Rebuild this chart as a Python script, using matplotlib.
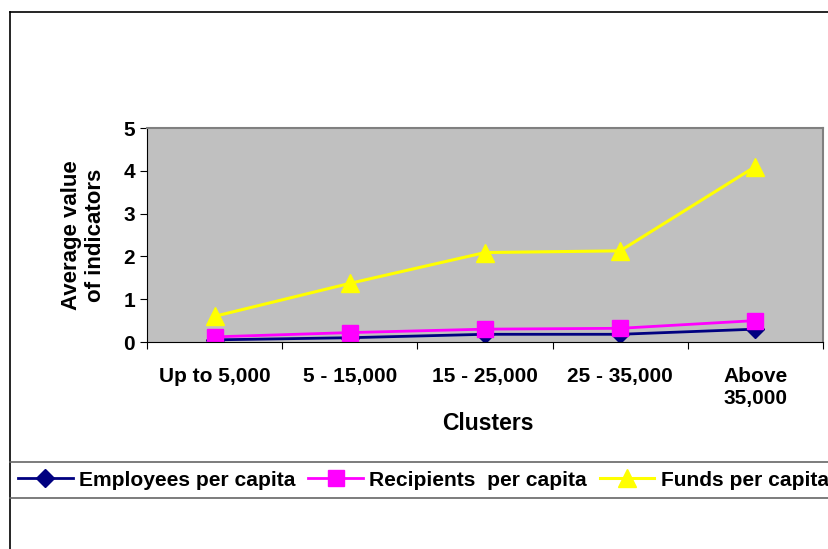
import matplotlib
matplotlib.use("Agg")
import matplotlib.pyplot as plt
from matplotlib.lines import Line2D

plt.rcParams['font.family'] = ['Liberation Sans', 'DejaVu Sans']
plt.rcParams['font.weight'] = 'bold'

clusters = ["Up to 5,000", "5 - 15,000", "15 - 25,000", "25 - 35,000", "Above\n35,000"]
employees = [0.05, 0.10, 0.18, 0.18, 0.30]
recipients = [0.12, 0.22, 0.30, 0.32, 0.50]
funds = [0.60, 1.37, 2.09, 2.13, 4.10]
series_names = ["Employees per capita", "Recipients  per capita", "Funds per capita"]

W, H = 829, 549
fig = plt.figure(figsize=(W / 100, H / 100), dpi=100)

# outer chart border (cut off at right and bottom)
fig.add_artist(Line2D([10 / W, 10 / W], [0, 1 - 12 / H], color="black", lw=1.2))
fig.add_artist(Line2D([10 / W, 1], [1 - 12 / H, 1 - 12 / H], color="black", lw=1.2))
# legend box lines
for yy in (462, 498):
    fig.add_artist(Line2D([10 / W, 1], [1 - yy / H, 1 - yy / H], color="#666666", lw=1.2))

# plot area in pixels: x 147..823, y 128..342
ax = fig.add_axes([147 / W, 1 - 342 / H, (823 - 147) / W, (342 - 128) / H])
ax.set_facecolor("#C0C0C0")

x = list(range(len(clusters)))
ax.plot(x, employees, color="#000080", lw=2, marker="D", ms=9, label=series_names[0])
ax.plot(x, recipients, color="#FF00FF", lw=2, marker="s", ms=11, label=series_names[1])
ax.plot(x, funds, color="#FFFF00", lw=2.2, marker="^", ms=13, label=series_names[2])

ax.set_xlim(-0.5, len(clusters) - 0.5)
ax.set_ylim(0, 5)
ax.set_yticks(range(6))
ax.set_xticks([i - 0.5 for i in range(len(clusters) + 1)])
ax.set_xticklabels([])
ax.set_xticks(x, minor=True)
ax.set_xticklabels(clusters, minor=True, fontsize=15, fontweight="bold")
ax.tick_params(axis="x", which="minor", length=0, pad=18)
ax.tick_params(axis="x", which="major", length=5, direction="out", color="black")
ax.tick_params(axis="y", length=5, direction="out", labelsize=15, pad=3.5)
for lbl in ax.get_yticklabels():
    lbl.set_fontweight("bold")

ax.spines["top"].set_color("#808080")
ax.spines["right"].set_color("#808080")
ax.spines["top"].set_linewidth(1.5)
ax.spines["right"].set_linewidth(1.5)
ax.spines["left"].set_color("black")
ax.spines["bottom"].set_color("black")

ax.set_xlabel("Clusters", fontsize=16.5, fontweight="bold", va="center")
ax.xaxis.set_label_coords((488 - 147) / 676, -(423 - 342) / 214)
ax.set_ylabel("Average value\nof indicators", fontsize=16, fontweight="bold",
              va="center", ha="center", linespacing=1.15)
ax.yaxis.set_label_coords((83.5 - 147) / 676, (342 - 235) / 214)

handles, labels = ax.get_legend_handles_labels()
fig.legend(handles, labels, loc="center left", bbox_to_anchor=(18 / W, 1 - 480 / H),
           ncol=3, frameon=False, handlelength=2.6, columnspacing=0.62,
           handletextpad=0.3, borderaxespad=0, borderpad=0,
           prop={"weight": "bold", "size": 15.1})

fig.savefig("out.png", dpi=100)
